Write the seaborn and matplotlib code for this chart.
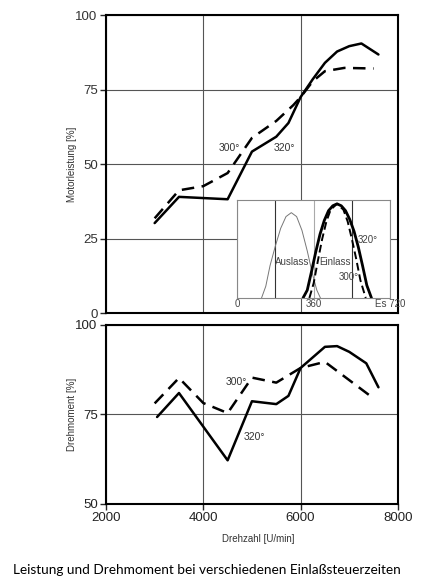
import matplotlib
matplotlib.use('Agg')
import matplotlib.pyplot as plt
import seaborn as sns

sns.set_style('white')
plt.rcParams['font.family'] = ['Liberation Sans', 'DejaVu Sans']

# Motorleistung [%] ueber Drehzahl
leistung_320_rpm = [3000, 3500, 4500, 5000, 5500, 5750, 6000, 6250, 6500, 6750, 7000, 7250, 7600]
leistung_320 = [30.2, 39.0, 38.2, 54.2, 59.2, 63.8, 72.5, 78.5, 84.0, 87.8, 89.6, 90.5, 86.8]
leistung_300_rpm = [3000, 3500, 4000, 4500, 5000, 5500, 5850, 6000, 6250, 6500, 6900, 7500]
leistung_300 = [31.8, 41.2, 42.6, 47.0, 58.8, 64.5, 69.8, 72.5, 77.8, 81.2, 82.3, 82.1]

# Drehmoment [%] ueber Drehzahl
dreh_320_rpm = [3050, 3500, 4500, 5000, 5500, 5750, 6000, 6500, 6750, 7000, 7350, 7600]
dreh_320 = [74.3, 81.0, 62.2, 78.7, 77.9, 80.2, 88.0, 93.9, 94.1, 92.5, 89.3, 82.6]
dreh_300_rpm = [3000, 3500, 4000, 4500, 5000, 5500, 6000, 6500, 7500]
dreh_300 = [78.1, 85.2, 78.2, 75.4, 85.3, 83.9, 88.0, 89.7, 79.5]

# Ventilhub im Inset (Kurbelwinkel in Grad)
auslass_deg = [115, 135, 155, 180, 205, 230, 255, 280, 305, 330, 355, 375, 392]
auslass_hub = [0, 0.12, 0.33, 0.53, 0.71, 0.83, 0.87, 0.83, 0.69, 0.48, 0.24, 0.08, 0]
einlass_320_deg = [310, 330, 350, 370, 390, 410, 430, 450, 470, 490, 510, 530, 550, 570, 590, 610, 632]
einlass_320_hub = [0, 0.08, 0.27, 0.47, 0.65, 0.79, 0.89, 0.94, 0.96, 0.94, 0.89, 0.80, 0.68, 0.52, 0.33, 0.13, 0]
einlass_300_deg = [340, 360, 380, 400, 420, 440, 470, 500, 520, 540, 560, 580, 605]
einlass_300_hub = [0, 0.15, 0.38, 0.60, 0.78, 0.90, 0.96, 0.90, 0.78, 0.60, 0.40, 0.18, 0]

fig = plt.figure(figsize=(4.35, 5.84), dpi=100)
ax1 = fig.add_axes([0.2437, 0.464, 0.671, 0.510])
ax2 = fig.add_axes([0.2437, 0.137, 0.671, 0.3065])
ax_in = fig.add_axes([0.545, 0.4897, 0.352, 0.168])

grid_kw = dict(color='#555555', linewidth=0.8)
dash = (0, (5, 3))

# oben: Motorleistung
sns.lineplot(x=leistung_320_rpm, y=leistung_320, ax=ax1, color='black', linewidth=1.8)
sns.lineplot(x=leistung_300_rpm, y=leistung_300, ax=ax1, color='black', linewidth=1.8, linestyle=dash)
ax1.set_xlim(2000, 8000)
ax1.set_ylim(0, 100)
ax1.set_xticks([2000, 4000, 6000, 8000])
ax1.set_yticks([0, 25, 50, 75, 100])
ax1.tick_params(axis='x', length=0, labelbottom=False)
ax1.tick_params(axis='y', length=4, width=1, pad=2, labelsize=9.5, labelcolor='#333333', left=True)
ax1.grid(True, **grid_kw)
ax1.set_ylabel('Motorleistung [%]', fontsize=7, color='#333333')
ax1.yaxis.set_label_coords(-0.10, 0.5)
ax1.text(4544, 55.4, '300°', fontsize=7.5, color='#333333', ha='center', va='center')
ax1.text(5673, 55.4, '320°', fontsize=7.5, color='#333333', ha='center', va='center')

# unten: Drehmoment
sns.lineplot(x=dreh_320_rpm, y=dreh_320, ax=ax2, color='black', linewidth=1.8)
sns.lineplot(x=dreh_300_rpm, y=dreh_300, ax=ax2, color='black', linewidth=1.8, linestyle=dash)
ax2.set_xlim(2000, 8000)
ax2.set_ylim(50, 100)
ax2.set_xticks([2000, 4000, 6000, 8000])
ax2.set_yticks([50, 75, 100])
ax2.tick_params(length=4, width=1, pad=2, labelsize=9.5, labelcolor='#222222', left=True, bottom=True)
ax2.grid(True, **grid_kw)
ax2.set_ylabel('Drehmoment [%]', fontsize=7, color='#333333')
ax2.yaxis.set_label_coords(-0.10, 0.5)
ax2.set_xlabel('Drehzahl [U/min]', fontsize=7, color='#333333')
ax2.xaxis.set_label_coords(0.52, -0.17)
ax2.text(4682, 84.2, '300°', fontsize=7.5, color='#333333', ha='center', va='center')
ax2.text(5044, 68.6, '320°', fontsize=7.5, color='#333333', ha='center', va='center')

for ax in (ax1, ax2):
    for s in ax.spines.values():
        s.set_color('black')
        s.set_linewidth(1.5)

# Inset: Ventilerhebung
ax_in.set_facecolor('white')
sns.lineplot(x=auslass_deg, y=auslass_hub, ax=ax_in, color='#777777', linewidth=0.7)
sns.lineplot(x=einlass_320_deg, y=einlass_320_hub, ax=ax_in, color='black', linewidth=2.0)
sns.lineplot(x=einlass_300_deg, y=einlass_300_hub, ax=ax_in, color='black', linewidth=1.4,
             linestyle=(0, (4, 2)))
ax_in.set_xlim(0, 720)
ax_in.set_ylim(0, 1.0)
ax_in.set_xticks([0, 360, 720])
ax_in.set_xticklabels(['0', '360', 'Es 720'])
ax_in.set_xticks([180, 540], minor=True)
ax_in.set_yticks([])
ax_in.tick_params(which='both', length=0, pad=1, labelsize=7, labelcolor='#444444')
ax_in.grid(True, which='minor', axis='x', color='#333333', linewidth=0.8)
ax_in.grid(True, which='major', axis='x', color='#aaaaaa', linewidth=0.8)
for s in ax_in.spines.values():
    s.set_color('#888888')
    s.set_linewidth(0.8)
ax_in.text(258, 0.37, 'Auslass', fontsize=7, color='#444444', ha='center', va='center')
ax_in.text(461, 0.37, 'Einlass', fontsize=7, color='#444444', ha='center', va='center')
ax_in.text(616, 0.59, '320°', fontsize=7, color='#444444', ha='center', va='center')
ax_in.text(523, 0.21, '300°', fontsize=7, color='#444444', ha='center', va='center')

fig.text(0.03, 0.024, 'Leistung und Drehmoment bei verschiedenen Einlaßsteuerzeiten',
         fontsize=9.8, family=['Lato', 'DejaVu Sans'], color='black', ha='left', va='center')

fig.savefig('out.png', dpi=100)
